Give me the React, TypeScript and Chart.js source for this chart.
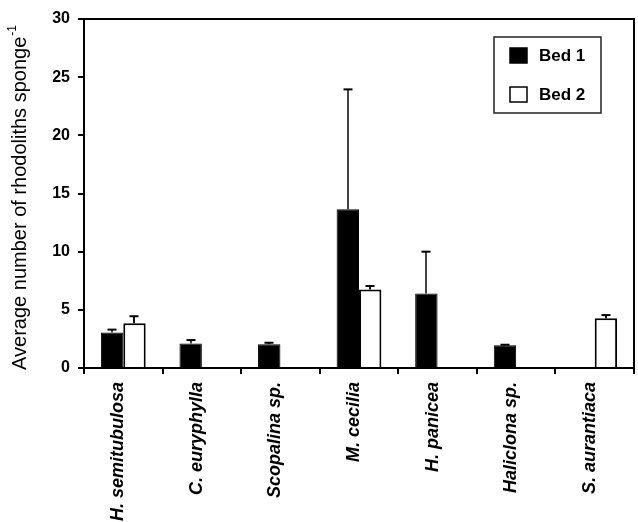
import React, { useEffect, useRef } from "react";
import { Chart, registerables } from "chart.js";

Chart.register(...registerables);

const categories = [
  "H. semitubulosa",
  "C. euryphylla",
  "Scopalina sp.",
  "M. cecilia",
  "H. panicea",
  "Haliclona sp.",
  "S. aurantiaca",
];
const seriesNames = ["Bed 1", "Bed 2"];
const bed1 = [3.05, 2.1, 2.05, 13.65, 6.4, 1.95, null];
const bed1Err = [0.25, 0.3, 0.12, 10.3, 3.6, 0.05, null];
const bed2 = [3.85, null, null, 6.75, null, null, 4.27];
const bed2Err = [0.6, null, null, 0.3, null, null, 0.28];
const yTicks = [0, 5, 10, 15, 20, 25, 30];
const yTitle = "Average number of rhodoliths sponge";
const yTitleSup = "-1";

const FONT = "'Liberation Sans', Arial, Helvetica, sans-serif";

const overlayPlugin = {
  id: "overlay",
  afterDatasetsDraw(chart: any) {
    const ctx = chart.ctx;
    const yScale = chart.scales.y;
    const errs = [bed1Err, bed2Err];
    ctx.save();
    chart.data.datasets.forEach((ds: any, i: number) => {
      const meta = chart.getDatasetMeta(i);
      meta.data.forEach((el: any, j: number) => {
        const v = ds.data[j];
        const e = errs[i][j];
        if (v == null || e == null) return;
        const top = yScale.getPixelForValue(v + e);
        const x = Math.round(el.x);
        ctx.strokeStyle = i === 0 ? "#444" : "#111";
        ctx.lineWidth = 2;
        ctx.beginPath();
        ctx.moveTo(x, el.y);
        ctx.lineTo(x, top);
        ctx.stroke();
        ctx.strokeStyle = "#000";
        ctx.beginPath();
        ctx.moveTo(x - 4.5, top);
        ctx.lineTo(x + 4.5, top);
        ctx.stroke();
      });
    });
    ctx.restore();
  },
  afterDraw(chart: any) {
    const ctx = chart.ctx;
    const area = chart.chartArea;
    ctx.save();
    ctx.strokeStyle = "#000";
    ctx.lineWidth = 2;
    ctx.beginPath();
    ctx.moveTo(area.left, area.top);
    ctx.lineTo(area.right, area.top);
    ctx.lineTo(area.right, area.bottom);
    ctx.stroke();

    // legend
    const bx = area.right - 140;
    const by = area.top + 18;
    const bw = 107;
    const bh = 76;
    ctx.fillStyle = "#fff";
    ctx.fillRect(bx, by, bw, bh);
    ctx.strokeStyle = "#222";
    ctx.lineWidth = 1.5;
    ctx.strokeRect(bx, by, bw, bh);
    const fills = ["#000", "#fff"];
    seriesNames.forEach((name, i) => {
      const cy = by + 18 + i * 39;
      ctx.fillStyle = fills[i];
      ctx.fillRect(bx + 16, cy - 7, 17, 15);
      ctx.strokeStyle = "#000";
      ctx.lineWidth = 1.5;
      ctx.strokeRect(bx + 16, cy - 7, 17, 15);
      ctx.fillStyle = "#000";
      ctx.font = `bold 17px ${FONT}`;
      ctx.textAlign = "left";
      ctx.textBaseline = "middle";
      ctx.fillText(name, bx + 45, cy + 1);
    });

    // y-axis title with superscript
    const mainFont = `20px ${FONT}`;
    const supFont = `12px ${FONT}`;
    ctx.font = mainFont;
    const w1 = ctx.measureText(yTitle).width;
    ctx.font = supFont;
    const w2 = ctx.measureText(yTitleSup).width;
    const total = w1 + w2 + 1;
    const cx = 20;
    const cy = (area.top + area.bottom) / 2 + 4;
    ctx.translate(cx, cy);
    ctx.rotate(-Math.PI / 2);
    ctx.fillStyle = "#000";
    ctx.textAlign = "left";
    ctx.textBaseline = "middle";
    ctx.font = mainFont;
    ctx.fillText(yTitle, -total / 2, 0);
    ctx.font = supFont;
    ctx.fillText(yTitleSup, -total / 2 + w1 + 1, -7);
    ctx.restore();
  },
};

function ChartView() {
  const ref = useRef<HTMLCanvasElement | null>(null);
  useEffect(() => {
    if (!ref.current) return;
    const chart = new Chart(ref.current, {
      type: "bar",
      data: {
        labels: categories,
        datasets: [
          {
            label: seriesNames[0],
            data: bed1,
            backgroundColor: "#000",
            borderColor: "#000",
            borderWidth: 1,
          },
          {
            label: seriesNames[1],
            data: bed2,
            backgroundColor: "#fff",
            borderColor: "#000",
            borderWidth: 2,
          },
        ],
      },
      options: {
        responsive: false,
        animation: false,
        devicePixelRatio: 1,
        categoryPercentage: 0.57,
        barPercentage: 1.0,
        layout: { padding: { top: 19, right: 4, left: 0, bottom: 0 } },
        plugins: {
          legend: { display: false },
          tooltip: { enabled: false },
          title: { display: false },
        },
        scales: {
          x: {
            grid: {
              display: true,
              drawOnChartArea: false,
              drawTicks: true,
              tickLength: 6,
              color: "#000",
              lineWidth: 2,
              offset: true,
            },
            border: { display: true, color: "#000", width: 2 },
            ticks: {
              autoSkip: false,
              minRotation: 90,
              maxRotation: 90,
              padding: 8,
              labelOffset: -5,
              color: "#000",
              font: { family: FONT, size: 18, weight: "bold", style: "italic" },
            },
            afterFit: (scale: any) => {
              scale.height = 154;
            },
          },
          y: {
            min: 0,
            max: 30,
            afterBuildTicks: (scale: any) => {
              scale.ticks = yTicks.map((v) => ({ value: v }));
            },
            grid: {
              display: true,
              drawOnChartArea: false,
              drawTicks: true,
              tickLength: 6,
              color: "#000",
              lineWidth: 2,
            },
            border: { display: true, color: "#000", width: 2 },
            ticks: {
              padding: 8,
              color: "#000",
              font: { family: FONT, size: 16, weight: "bold" },
            },
            afterFit: (scale: any) => {
              scale.width = 84;
            },
          },
        },
      },
      plugins: [overlayPlugin],
    });
    return () => chart.destroy();
  }, []);
  return <canvas ref={ref} width={638} height={522} style={{ display: "block" }} />;
}

export default function App() {
  return (
    <div style={{ position: "fixed", left: 0, top: 0, width: 638, height: 522, background: "#fff" }}>
      <ChartView />
    </div>
  );
}
